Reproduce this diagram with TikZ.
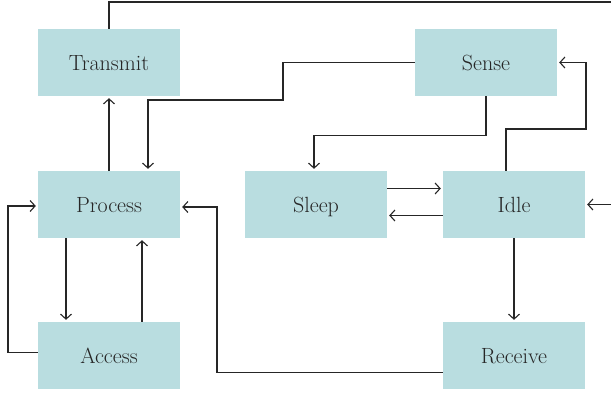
\documentclass[tikz,border=0pt]{standalone}
\usepackage{fontspec}
\usepackage{tikz}
\usetikzlibrary{arrows.meta,calc}
\definecolor{boxblue}{RGB}{185,221,224}

\begin{document}
\begin{tikzpicture}[x=1pt,y=-1pt]
\tikzstyle{state}=[rectangle, fill=boxblue, minimum width=142pt, minimum height=67pt, text=black!85, text height=16pt, text depth=1pt, font=\fontsize{22}{24}\selectfont]
\tikzstyle{line}=[line width=1.1pt, black!85]
\tikzstyle{connect}=[line, -{Straight Barb[length=5pt,width=11pt]}, shorten >=2pt]

  \useasboundingbox (0,0) rectangle (611,394);

  \node[state] (transmit) at (109,62.5)  {Transmit};
  \node[state] (sense)    at (486,62.5)  {Sense};
  \node[state] (process)  at (109,204.5) {Process};
  \node[state] (sleep)    at (316,204.5) {Sleep};
  \node[state] (idle)     at (514,204.5) {Idle};
  \node[state] (access)   at (109,355.5) {Access};
  \node[state] (receive)  at (514,355.5) {Receive};

  \coordinate (topend) at (611,2);
  \coordinate (idlein) at (611,204.5);

  \draw[line] (transmit.north) |- (topend);
  \draw[connect] (idlein) -- (idle.east);

  \draw[connect] (sense.west) -| (283,100) -| ([xshift=39pt]process.north);
  \draw[connect] (sense.south) -- ++(0,39) -| ([xshift=-2pt]sleep.north);
  \draw[connect] ([xshift=-8pt]idle.north) |- (586,129) |- (sense.east);

  \draw[connect] (process.north) -- (transmit.south);
  \draw[connect] ([yshift=16pt]sleep.east) -- ([yshift=16pt]idle.west);
  \draw[connect] ([yshift=-11pt]idle.west) -- ([yshift=-11pt]sleep.east);
  \draw[connect] (idle.south) -- (receive.north);

  \draw[connect] ([yshift=-17pt]receive.west) -| (217,207) -- ([yshift=-2.5pt]process.east);
  \draw[connect] ([xshift=-43pt]process.south) -- ([xshift=-43pt]access.north);
  \draw[connect] ([xshift=33pt]access.north) -- ([xshift=33pt]process.south);
  \draw[connect] ([yshift=3pt]access.west) -| (8,206) -- ([yshift=-1.5pt]process.west);

\end{tikzpicture}
\end{document}
